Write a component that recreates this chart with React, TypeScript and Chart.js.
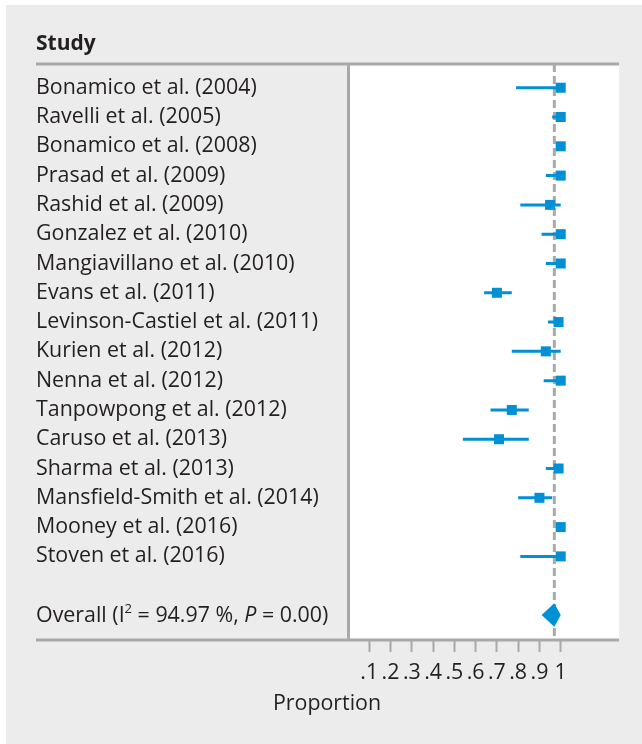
import React, { useEffect, useRef } from 'react';
import { Chart, registerables } from 'chart.js';

Chart.register(...registerables);

// ---------- data ----------
const headerTitle = 'Study';
const studies = [
  'Bonamico et al. (2004)',
  'Ravelli et al. (2005)',
  'Bonamico et al. (2008)',
  'Prasad et al. (2009)',
  'Rashid et al. (2009)',
  'Gonzalez et al. (2010)',
  'Mangiavillano et al. (2010)',
  'Evans et al. (2011)',
  'Levinson-Castiel et al. (2011)',
  'Kurien et al. (2012)',
  'Nenna et al. (2012)',
  'Tanpowpong et al. (2012)',
  'Caruso et al. (2013)',
  'Sharma et al. (2013)',
  'Mansfield-Smith et al. (2014)',
  'Mooney et al. (2016)',
  'Stoven et al. (2016)',
];
const estimates = [1.0, 1.0, 1.0, 1.0, 0.95, 1.0, 1.0, 0.7, 0.99, 0.93, 1.0, 0.77, 0.71, 0.99, 0.9, 1.0, 1.0];
const lowerCI = [0.79, 0.96, 0.98, 0.93, 0.81, 0.91, 0.93, 0.64, 0.94, 0.77, 0.92, 0.67, 0.54, 0.93, 0.8, 0.98, 0.81];
const upperCI = [1.0, 1.0, 1.0, 1.0, 1.0, 1.0, 1.0, 0.77, 1.0, 1.0, 1.0, 0.85, 0.85, 1.0, 0.96, 1.0, 1.0];

const overallRow = 19;
const overallEstimate = 0.97;
const overallLower = 0.91;
const overallUpper = 1.0;
// "Overall (I² = 94.97 %, P = 0.00)"
const overallParts = [
  { text: 'Overall (I', style: 'normal' },
  { text: '2', style: 'sup' },
  { text: ' = 94.97 %, ', style: 'normal' },
  { text: 'P', style: 'italic' },
  { text: ' = 0.00)', style: 'normal' },
];

const xTicks = [0.1, 0.2, 0.3, 0.4, 0.5, 0.6, 0.7, 0.8, 0.9, 1.0];
const xTickLabels = ['.1', '.2', '.3', '.4', '.5', '.6', '.7', '.8', '.9', '1'];
const xAxisTitle = 'Proportion';

// ---------- style ----------
const FAMILY = '"Open Sans", "Noto Sans", sans-serif';
const LABEL_SIZE = 21.4;
const TEXT = '#231f20';
const LINE_GRAY = '#a8a9ab';
const PANEL = '#ebeceb';
const BLUE = '#0090d6';

const forestPlugin = {
  id: 'forestDecor',
  beforeDraw(chart: any) {
    const { ctx, width, height, chartArea } = chart;
    ctx.save();
    ctx.fillStyle = '#ffffff';
    ctx.fillRect(0, 0, width, height);
    ctx.fillStyle = PANEL;
    ctx.fillRect(6, 5, width - 6, height - 5);
    ctx.fillStyle = '#ffffff';
    ctx.fillRect(chartArea.left, chartArea.top, chartArea.right - chartArea.left, chartArea.bottom - chartArea.top);
    ctx.restore();
  },
  beforeDatasetsDraw(chart: any) {
    const { ctx, chartArea, scales } = chart;
    const x = scales.x.getPixelForValue(overallEstimate);
    ctx.save();
    ctx.strokeStyle = LINE_GRAY;
    ctx.lineWidth = 3;
    ctx.setLineDash([8, 4]);
    ctx.beginPath();
    ctx.moveTo(x, chartArea.top);
    ctx.lineTo(x, chartArea.bottom);
    ctx.stroke();
    ctx.restore();
  },
  afterDatasetsDraw(chart: any) {
    const { ctx, scales } = chart;
    const xs = scales.x;
    const ys = scales.y;
    const yc = ys.getPixelForValue(overallRow);
    const half = Math.abs(ys.getPixelForValue(overallRow + 0.4) - yc);
    ctx.save();
    ctx.fillStyle = BLUE;
    ctx.beginPath();
    ctx.moveTo(xs.getPixelForValue(overallLower), yc);
    ctx.lineTo(xs.getPixelForValue(overallEstimate), yc - half);
    ctx.lineTo(xs.getPixelForValue(overallUpper), yc);
    ctx.lineTo(xs.getPixelForValue(overallEstimate), yc + half);
    ctx.closePath();
    ctx.fill();
    ctx.restore();
  },
  afterDraw(chart: any) {
    const { ctx, chartArea, scales } = chart;
    ctx.save();
    // frame lines
    ctx.strokeStyle = LINE_GRAY;
    ctx.lineWidth = 3;
    ctx.beginPath();
    ctx.moveTo(36, chartArea.top);
    ctx.lineTo(chartArea.right, chartArea.top);
    ctx.moveTo(36, chartArea.bottom + 1);
    ctx.lineTo(chartArea.right, chartArea.bottom + 1);
    ctx.moveTo(chartArea.left + 0.5, chartArea.top);
    ctx.lineTo(chartArea.left + 0.5, chartArea.bottom + 1);
    ctx.stroke();

    // header
    ctx.fillStyle = TEXT;
    ctx.font = `bold 21px ${FAMILY}`;
    ctx.textAlign = 'left';
    ctx.textBaseline = 'alphabetic';
    ctx.fillText(headerTitle, 36, 50);

    // overall label
    const yc = scales.y.getPixelForValue(overallRow) + 0.5;
    let x = 36;
    ctx.textBaseline = 'middle';
    for (const p of overallParts) {
      if (p.style === 'sup') {
        ctx.font = `13px ${FAMILY}`;
        ctx.fillText(p.text, x, yc - 6);
      } else if (p.style === 'italic') {
        ctx.font = `italic ${LABEL_SIZE}px ${FAMILY}`;
        ctx.fillText(p.text, x, yc);
      } else {
        ctx.font = `${LABEL_SIZE}px ${FAMILY}`;
        ctx.fillText(p.text, x, yc);
      }
      x += ctx.measureText(p.text).width;
    }

    // axis title
    ctx.font = `${LABEL_SIZE}px ${FAMILY}`;
    ctx.textAlign = 'center';
    ctx.textBaseline = 'alphabetic';
    ctx.fillText(xAxisTitle, 327, 710);
    ctx.restore();
  },
};

export default function App() {
  const canvasRef = useRef<HTMLCanvasElement | null>(null);

  useEffect(() => {
    let chart: Chart | null = null;
    let cancelled = false;
    const make = () => {
      if (cancelled || !canvasRef.current) return;
      chart = new Chart(canvasRef.current, {
        type: 'scatter',
        data: {
          datasets: [
            {
              label: 'estimate',
              data: studies.map((_, i) => ({ x: estimates[i], y: i + 1 })),
              pointStyle: 'rect',
              pointRadius: 7.07,
              pointHoverRadius: 7.07,
              backgroundColor: BLUE,
              borderWidth: 0,
              order: 0,
            },
            {
              label: 'ci',
              data: studies.flatMap((_, i) => [
                { x: lowerCI[i], y: i + 1 },
                { x: upperCI[i], y: i + 1 },
                { x: upperCI[i], y: null as any },
              ]),
              showLine: true,
              spanGaps: false,
              borderColor: BLUE,
              borderWidth: 3,
              pointRadius: 0,
              pointHoverRadius: 0,
              order: 1,
            },
          ],
        },
        options: {
          responsive: false,
          animation: false,
          devicePixelRatio: 1,
          events: [],
          layout: { padding: { left: 36, top: 64, right: 23, bottom: 0 } },
          plugins: { legend: { display: false }, tooltip: { enabled: false } },
          scales: {
            x: {
              type: 'linear',
              min: 0,
              max: 1.274,
              afterBuildTicks: (s: any) => {
                s.ticks = xTicks.map((v) => ({ value: v }));
              },
              afterFit: (s: any) => {
                s.height = 105;
              },
              grid: {
                display: true,
                drawOnChartArea: false,
                drawTicks: true,
                tickLength: 13,
                tickColor: LINE_GRAY,
                tickWidth: 2,
                color: LINE_GRAY,
              },
              border: { display: false },
              ticks: {
                callback: (_v: any, i: number) => xTickLabels[i],
                font: { family: FAMILY, size: LABEL_SIZE },
                color: TEXT,
                padding: 8,
                maxRotation: 0,
                autoSkip: false,
              },
            },
            y: {
              type: 'linear',
              min: 0.19,
              max: 19.82,
              reverse: true,
              afterBuildTicks: (s: any) => {
                s.ticks = studies.map((_, i) => ({ value: i + 1 }));
              },
              afterFit: (s: any) => {
                s.width = 312;
              },
              grid: { display: false },
              border: { display: false },
              ticks: {
                callback: (_v: any, i: number) => studies[i],
                crossAlign: 'far',
                font: { family: FAMILY, size: LABEL_SIZE },
                color: TEXT,
                padding: 0,
                autoSkip: false,
              },
            },
          },
        },
        plugins: [forestPlugin],
      });
    };
    const fontsReady = (document as any).fonts
      ? Promise.all([
          (document as any).fonts.load(`${LABEL_SIZE}px ${FAMILY}`),
          (document as any).fonts.load(`bold 21px ${FAMILY}`),
          (document as any).fonts.load(`italic ${LABEL_SIZE}px ${FAMILY}`),
        ]).catch(() => null)
      : Promise.resolve(null);
    fontsReady.then(make);
    return () => {
      cancelled = true;
      if (chart) chart.destroy();
    };
  }, []);

  return (
    <div style={{ position: 'absolute', left: 0, top: 0, width: 642, height: 744 }}>
      <canvas ref={canvasRef} width={642} height={744} style={{ display: 'block' }} />
    </div>
  );
}
